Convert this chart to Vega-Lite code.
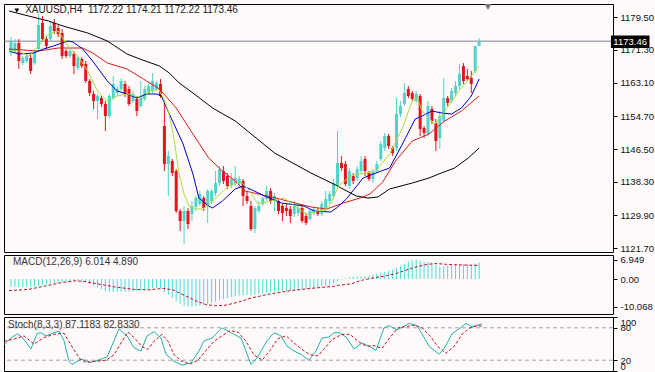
{
"$schema":"https://vega.github.io/schema/vega-lite/v6.json",
"background":"#FFFAFA",
"padding":{"left":1,"top":3,"right":0,"bottom":0},
"spacing":3,
"bounds":"flush",
"config":{
"view":{"fill":"#FFFAFA","stroke":"#000000","strokeWidth":1},
"axis":{"labelFont":"Liberation Sans","labelFontSize":9.5,"labelColor":"#111111","tickColor":"#000000","grid":false,"domain":false,"title":null,"tickSize":4,"labelPadding":3,"labelOverlap":false},
"text":{"font":"Liberation Sans","fontSize":9.5}
},
"datasets":{
"candles":[
{"i":0,"o":1170.5,"h":1174.5,"l":1169.75,"c":1173.5,"m":-2.75},
{"i":1,"o":1171.0,"h":1174.0,"l":1170.5,"c":1173.0,"m":-2.84},
{"i":2,"o":1173.0,"h":1174.0,"l":1166.5,"c":1168.5,"m":-2.93},
{"i":3,"o":1168.0,"h":1169.75,"l":1167.5,"c":1169.25,"m":-2.93},
{"i":4,"o":1168.5,"h":1170.5,"l":1168.0,"c":1169.75,"m":-2.84},
{"i":5,"o":1169.25,"h":1170.5,"l":1165.25,"c":1166.0,"m":-2.75},
{"i":6,"o":1168.0,"h":1171.5,"l":1167.5,"c":1171.0,"m":-2.65},
{"i":7,"o":1171.5,"h":1180.25,"l":1171.0,"c":1177.5,"m":-2.38},
{"i":8,"o":1178.0,"h":1179.75,"l":1173.5,"c":1174.0,"m":-2.1},
{"i":9,"o":1174.0,"h":1174.75,"l":1171.5,"c":1172.25,"m":-1.92},
{"i":10,"o":1174.0,"h":1178.5,"l":1173.5,"c":1177.25,"m":-1.74},
{"i":11,"o":1178.0,"h":1179.0,"l":1175.25,"c":1176.0,"m":-1.56},
{"i":12,"o":1176.75,"h":1177.5,"l":1174.5,"c":1175.25,"m":-1.37},
{"i":13,"o":1175.5,"h":1176.5,"l":1169.0,"c":1169.75,"m":-1.1},
{"i":14,"o":1171.0,"h":1171.5,"l":1169.25,"c":1169.75,"m":-0.82},
{"i":15,"o":1169.75,"h":1171.75,"l":1169.25,"c":1171.0,"m":-0.73},
{"i":16,"o":1170.25,"h":1171.0,"l":1165.25,"c":1167.25,"m":-0.64},
{"i":17,"o":1166.75,"h":1169.75,"l":1166.25,"c":1169.25,"m":-0.73},
{"i":18,"o":1169.0,"h":1169.5,"l":1166.75,"c":1167.25,"m":-0.92},
{"i":19,"o":1167.75,"h":1168.5,"l":1163.0,"c":1163.5,"m":-1.28},
{"i":20,"o":1163.5,"h":1164.0,"l":1159.75,"c":1160.5,"m":-1.83},
{"i":21,"o":1160.25,"h":1161.0,"l":1156.5,"c":1158.5,"m":-2.47},
{"i":22,"o":1158.5,"h":1160.25,"l":1154.0,"c":1159.75,"m":-3.11},
{"i":23,"o":1159.25,"h":1159.75,"l":1157.0,"c":1157.75,"m":-3.66},
{"i":24,"o":1157.75,"h":1158.5,"l":1151.0,"c":1154.75,"m":-4.21},
{"i":25,"o":1154.75,"h":1160.25,"l":1154.25,"c":1159.75,"m":-4.58},
{"i":26,"o":1159.25,"h":1164.75,"l":1158.75,"c":1162.75,"m":-4.67},
{"i":27,"o":1160.5,"h":1162.25,"l":1159.75,"c":1161.5,"m":-4.58},
{"i":28,"o":1161.5,"h":1164.25,"l":1161.0,"c":1163.5,"m":-4.48},
{"i":29,"o":1162.75,"h":1163.5,"l":1159.5,"c":1160.25,"m":-4.58},
{"i":30,"o":1161.5,"h":1162.25,"l":1157.25,"c":1157.75,"m":-4.58},
{"i":31,"o":1158.5,"h":1161.0,"l":1158.0,"c":1160.25,"m":-4.48},
{"i":32,"o":1159.0,"h":1159.75,"l":1154.75,"c":1156.0,"m":-4.39},
{"i":33,"o":1157.25,"h":1163.5,"l":1156.75,"c":1159.75,"m":-4.12},
{"i":34,"o":1159.0,"h":1162.25,"l":1158.5,"c":1161.5,"m":-3.84},
{"i":35,"o":1160.5,"h":1163.0,"l":1160.0,"c":1162.25,"m":-3.57},
{"i":36,"o":1161.0,"h":1165.5,"l":1160.5,"c":1163.5,"m":-3.29},
{"i":37,"o":1161.5,"h":1163.5,"l":1161.0,"c":1163.0,"m":-3.2},
{"i":38,"o":1162.75,"h":1164.0,"l":1159.25,"c":1159.75,"m":-3.39},
{"i":39,"o":1152.25,"h":1158.5,"l":1141.0,"c":1142.75,"m":-4.58},
{"i":40,"o":1142.75,"h":1146.0,"l":1134.75,"c":1144.75,"m":-5.76},
{"i":41,"o":1143.5,"h":1144.0,"l":1139.75,"c":1140.5,"m":-6.86},
{"i":42,"o":1141.0,"h":1141.5,"l":1130.5,"c":1131.0,"m":-8.05},
{"i":43,"o":1131.0,"h":1131.5,"l":1126.0,"c":1128.5,"m":-8.97},
{"i":44,"o":1128.5,"h":1132.25,"l":1122.75,"c":1131.0,"m":-9.6},
{"i":45,"o":1131.0,"h":1131.75,"l":1126.5,"c":1127.75,"m":-10.07},
{"i":46,"o":1130.25,"h":1133.5,"l":1128.5,"c":1132.25,"m":-10.07},
{"i":47,"o":1132.0,"h":1134.75,"l":1131.0,"c":1134.25,"m":-9.97},
{"i":48,"o":1132.75,"h":1136.0,"l":1132.25,"c":1135.25,"m":-9.7},
{"i":49,"o":1134.25,"h":1134.75,"l":1131.0,"c":1131.75,"m":-9.42},
{"i":50,"o":1132.25,"h":1136.5,"l":1128.0,"c":1136.0,"m":-9.06},
{"i":51,"o":1133.5,"h":1136.5,"l":1132.75,"c":1136.0,"m":-8.69},
{"i":52,"o":1135.5,"h":1141.0,"l":1134.75,"c":1138.0,"m":-8.24},
{"i":53,"o":1138.0,"h":1142.25,"l":1137.25,"c":1141.5,"m":-7.69},
{"i":54,"o":1141.0,"h":1142.25,"l":1137.75,"c":1138.5,"m":-7.23},
{"i":55,"o":1139.75,"h":1140.5,"l":1136.5,"c":1137.25,"m":-6.86},
{"i":56,"o":1137.25,"h":1140.5,"l":1136.75,"c":1139.0,"m":-6.5},
{"i":57,"o":1138.0,"h":1142.25,"l":1137.25,"c":1139.25,"m":-6.22},
{"i":58,"o":1137.75,"h":1139.75,"l":1137.0,"c":1139.0,"m":-5.95},
{"i":59,"o":1138.5,"h":1139.0,"l":1132.25,"c":1134.75,"m":-5.86},
{"i":60,"o":1134.75,"h":1136.0,"l":1132.75,"c":1133.5,"m":-5.76},
{"i":61,"o":1132.25,"h":1133.5,"l":1126.0,"c":1126.5,"m":-5.95},
{"i":62,"o":1126.5,"h":1132.25,"l":1125.5,"c":1131.75,"m":-5.76},
{"i":63,"o":1131.0,"h":1133.5,"l":1130.5,"c":1132.25,"m":-5.49},
{"i":64,"o":1132.75,"h":1134.75,"l":1132.25,"c":1134.25,"m":-5.22},
{"i":65,"o":1134.0,"h":1137.25,"l":1133.5,"c":1136.0,"m":-4.85},
{"i":66,"o":1136.0,"h":1136.75,"l":1132.75,"c":1133.5,"m":-4.58},
{"i":67,"o":1133.5,"h":1135.5,"l":1131.0,"c":1134.75,"m":-4.48},
{"i":68,"o":1133.5,"h":1134.0,"l":1130.25,"c":1131.0,"m":-4.39},
{"i":69,"o":1132.25,"h":1132.75,"l":1128.5,"c":1130.5,"m":-4.39},
{"i":70,"o":1131.75,"h":1132.75,"l":1129.75,"c":1131.0,"m":-4.3},
{"i":71,"o":1131.5,"h":1132.25,"l":1128.0,"c":1129.75,"m":-4.21},
{"i":72,"o":1130.25,"h":1133.5,"l":1129.5,"c":1132.25,"m":-4.12},
{"i":73,"o":1130.5,"h":1132.75,"l":1129.75,"c":1131.75,"m":-4.03},
{"i":74,"o":1131.75,"h":1132.25,"l":1128.0,"c":1128.5,"m":-3.93},
{"i":75,"o":1129.75,"h":1130.5,"l":1127.5,"c":1128.0,"m":-3.84},
{"i":76,"o":1129.0,"h":1131.5,"l":1128.5,"c":1131.0,"m":-3.57},
{"i":77,"o":1130.5,"h":1132.25,"l":1130.0,"c":1131.5,"m":-3.29},
{"i":78,"o":1131.0,"h":1131.75,"l":1129.75,"c":1130.25,"m":-3.02},
{"i":79,"o":1130.25,"h":1133.5,"l":1129.75,"c":1132.75,"m":-2.75},
{"i":80,"o":1131.75,"h":1136.0,"l":1131.0,"c":1134.0,"m":-2.38},
{"i":81,"o":1133.5,"h":1136.0,"l":1132.75,"c":1135.25,"m":-2.01},
{"i":82,"o":1134.75,"h":1139.0,"l":1134.0,"c":1138.0,"m":-1.65},
{"i":83,"o":1137.25,"h":1151.0,"l":1136.75,"c":1143.0,"m":-0.82},
{"i":84,"o":1143.0,"h":1144.75,"l":1141.0,"c":1141.75,"m":-0.3},
{"i":85,"o":1142.75,"h":1143.5,"l":1137.25,"c":1137.75,"m":0.3},
{"i":86,"o":1137.25,"h":1141.75,"l":1136.5,"c":1141.0,"m":0.6},
{"i":87,"o":1139.75,"h":1140.5,"l":1137.75,"c":1138.5,"m":0.8},
{"i":88,"o":1139.25,"h":1142.25,"l":1138.5,"c":1141.5,"m":0.9},
{"i":89,"o":1141.0,"h":1144.75,"l":1140.5,"c":1143.5,"m":1.0},
{"i":90,"o":1144.0,"h":1144.75,"l":1139.75,"c":1141.0,"m":1.1},
{"i":91,"o":1140.5,"h":1141.0,"l":1138.5,"c":1139.0,"m":1.3},
{"i":92,"o":1139.0,"h":1141.5,"l":1138.0,"c":1141.0,"m":1.6},
{"i":93,"o":1141.0,"h":1143.5,"l":1140.5,"c":1142.75,"m":1.9},
{"i":94,"o":1144.0,"h":1148.5,"l":1143.5,"c":1147.75,"m":2.1},
{"i":95,"o":1146.75,"h":1150.5,"l":1146.0,"c":1149.75,"m":2.6},
{"i":96,"o":1149.75,"h":1150.25,"l":1146.5,"c":1147.25,"m":3.0},
{"i":97,"o":1146.75,"h":1147.25,"l":1144.75,"c":1145.5,"m":3.3},
{"i":98,"o":1146.75,"h":1159.25,"l":1146.0,"c":1155.25,"m":4.0},
{"i":99,"o":1155.25,"h":1158.5,"l":1154.5,"c":1157.25,"m":4.6},
{"i":100,"o":1157.75,"h":1163.0,"l":1157.25,"c":1160.5,"m":5.5},
{"i":101,"o":1161.5,"h":1162.25,"l":1159.25,"c":1159.75,"m":6.3},
{"i":102,"o":1160.5,"h":1161.0,"l":1158.5,"c":1159.0,"m":6.8},
{"i":103,"o":1158.5,"h":1161.0,"l":1158.0,"c":1160.25,"m":6.95},
{"i":104,"o":1159.75,"h":1160.25,"l":1149.75,"c":1151.5,"m":6.5},
{"i":105,"o":1151.75,"h":1152.25,"l":1149.25,"c":1150.5,"m":6.2},
{"i":106,"o":1150.25,"h":1158.5,"l":1149.75,"c":1157.25,"m":6.2},
{"i":107,"o":1156.5,"h":1157.25,"l":1152.75,"c":1153.5,"m":6.0},
{"i":108,"o":1153.0,"h":1154.0,"l":1146.0,"c":1148.5,"m":5.2},
{"i":109,"o":1149.25,"h":1156.0,"l":1146.5,"c":1154.75,"m":4.4},
{"i":110,"o":1153.5,"h":1164.25,"l":1153.0,"c":1159.25,"m":4.5},
{"i":111,"o":1159.25,"h":1159.75,"l":1157.25,"c":1158.0,"m":4.8},
{"i":112,"o":1158.5,"h":1161.75,"l":1158.0,"c":1161.0,"m":5.0},
{"i":113,"o":1160.5,"h":1163.5,"l":1159.75,"c":1162.25,"m":5.1},
{"i":114,"o":1162.25,"h":1167.75,"l":1161.5,"c":1165.25,"m":5.3},
{"i":115,"o":1167.25,"h":1168.0,"l":1162.75,"c":1163.5,"m":5.5},
{"i":116,"o":1164.75,"h":1166.5,"l":1163.5,"c":1164.0,"m":5.3},
{"i":117,"o":1164.25,"h":1166.0,"l":1160.5,"c":1162.75,"m":5.1},
{"i":118,"o":1166.0,"h":1172.25,"l":1165.5,"c":1172.2,"m":5.6},
{"i":119,"o":1172.22,"h":1174.21,"l":1172.22,"c":1173.46,"m":6.01}
],
"mk":[{"i":-0.5,"p":1181.0},{"i":4.5,"p":1179.75},{"i":9.5,"p":1178.5},{"i":13.25,"p":1177.25},{"i":19.5,"p":1175.5},{"i":24.5,"p":1173.5},{"i":29.5,"p":1170.25},{"i":32.75,"p":1169.0},{"i":37.75,"p":1167.25},{"i":40.25,"p":1165.5},{"i":42.75,"p":1163.0},{"i":46.25,"p":1160.5},{"i":51.25,"p":1156.75},{"i":57,"p":1153.5},{"i":60.75,"p":1150.5},{"i":67,"p":1145.5},{"i":76.25,"p":1140.5},{"i":82,"p":1137.75},{"i":87.75,"p":1134.75},{"i":90.75,"p":1134.25},{"i":93.25,"p":1134.5},{"i":96.25,"p":1136.5},{"i":102,"p":1138.0},{"i":106.25,"p":1139.25},{"i":108.75,"p":1140.25},{"i":112.75,"p":1141.75},{"i":116.25,"p":1144.25},{"i":119,"p":1146.75}],
"mr":[{"i":-0.5,"p":1171.5},{"i":7,"p":1171.0},{"i":12,"p":1171.75},{"i":18.25,"p":1171.75},{"i":20.75,"p":1170.5},{"i":24.5,"p":1168.0},{"i":29.5,"p":1166.5},{"i":34.5,"p":1163.5},{"i":37.75,"p":1161.5},{"i":42,"p":1156.75},{"i":46.25,"p":1150.25},{"i":50.25,"p":1144.25},{"i":53.75,"p":1141.0},{"i":57,"p":1138.5},{"i":59.5,"p":1136.0},{"i":66.25,"p":1134.5},{"i":76.25,"p":1132.0},{"i":80.25,"p":1131.5},{"i":84.5,"p":1133.0},{"i":88.75,"p":1134.25},{"i":91.25,"p":1135.25},{"i":94.5,"p":1138.25},{"i":97.75,"p":1143.5},{"i":102,"p":1148.5},{"i":106.25,"p":1150.25},{"i":110.25,"p":1153.5},{"i":114.5,"p":1156.0},{"i":119,"p":1159.75}],
"mb":[{"i":-0.5,"p":1171.0},{"i":2,"p":1170.25},{"i":5.75,"p":1170.5},{"i":8.25,"p":1171.5},{"i":10.75,"p":1172.25},{"i":14.5,"p":1173.5},{"i":15.75,"p":1173.25},{"i":18.25,"p":1171.5},{"i":20.75,"p":1168.5},{"i":24.5,"p":1163.5},{"i":27,"p":1161.0},{"i":29.5,"p":1160.25},{"i":32,"p":1159.25},{"i":34.5,"p":1160.25},{"i":37,"p":1160.25},{"i":38.25,"p":1159.75},{"i":40.25,"p":1155.25},{"i":43.75,"p":1147.75},{"i":46.25,"p":1140.25},{"i":47.75,"p":1134.25},{"i":50.25,"p":1132.25},{"i":51.25,"p":1131.75},{"i":53.75,"p":1133.5},{"i":57,"p":1136.5},{"i":59,"p":1137.25},{"i":60.75,"p":1136.5},{"i":64.5,"p":1134.75},{"i":68.75,"p":1133.0},{"i":74.5,"p":1132.25},{"i":77,"p":1131.0},{"i":81.25,"p":1130.75},{"i":82.75,"p":1131.75},{"i":85.25,"p":1134.0},{"i":89.5,"p":1139.25},{"i":92.75,"p":1140.5},{"i":96.25,"p":1141.75},{"i":99.5,"p":1147.75},{"i":102.75,"p":1154.0},{"i":104.5,"p":1154.75},{"i":107,"p":1156.0},{"i":109.5,"p":1155.5},{"i":112,"p":1155.25},{"i":114.5,"p":1156.75},{"i":117,"p":1159.75},{"i":119,"p":1164.0}],
"my":[{"i":-0.5,"p":1171.0},{"i":2,"p":1171.0},{"i":4.5,"p":1169.75},{"i":7,"p":1172.25},{"i":9.5,"p":1175.25},{"i":12,"p":1176.0},{"i":14.5,"p":1172.25},{"i":17,"p":1169.75},{"i":19.5,"p":1166.0},{"i":22,"p":1161.0},{"i":24.5,"p":1158.5},{"i":27,"p":1159.75},{"i":29.5,"p":1160.25},{"i":33.75,"p":1159.25},{"i":35.25,"p":1161.0},{"i":37.5,"p":1161.5},{"i":38.75,"p":1159.25},{"i":40,"p":1156.0},{"i":41.25,"p":1150.25},{"i":42.75,"p":1140.25},{"i":44,"p":1135.25},{"i":45.25,"p":1132.25},{"i":47,"p":1131.5},{"i":48.75,"p":1131.5},{"i":51.25,"p":1133.5},{"i":54.5,"p":1136.5},{"i":56.25,"p":1137.75},{"i":58.75,"p":1138.0},{"i":60.75,"p":1136.0},{"i":62.75,"p":1132.75},{"i":66.25,"p":1133.5},{"i":69.5,"p":1134.25},{"i":72.75,"p":1131.75},{"i":75.25,"p":1130.25},{"i":77.75,"p":1131.0},{"i":79.5,"p":1131.0},{"i":81.25,"p":1132.75},{"i":83.25,"p":1137.25},{"i":86.25,"p":1139.75},{"i":90.25,"p":1140.5},{"i":92.75,"p":1141.0},{"i":96.25,"p":1145.25},{"i":99.5,"p":1151.75},{"i":102,"p":1158.5},{"i":103.25,"p":1159.25},{"i":104.5,"p":1156.0},{"i":107.75,"p":1152.75},{"i":109.5,"p":1154.75},{"i":112,"p":1158.5},{"i":114.5,"p":1161.75},{"i":117,"p":1164.75},{"i":119,"p":1167.25}],
"sig":[{"i":-0.5,"v":-4.2},{"i":4.5,"v":-3.75},{"i":9.5,"v":-2.3},{"i":13.25,"v":-1.2},{"i":16.25,"v":-0.65},{"i":18.75,"v":-0.9},{"i":22,"v":-1.75},{"i":26.25,"v":-2.85},{"i":31.25,"v":-3.75},{"i":34.5,"v":-3.95},{"i":38.75,"v":-3.4},{"i":41.25,"v":-3.95},{"i":43.75,"v":-5.7},{"i":47,"v":-7.9},{"i":49.5,"v":-9.25},{"i":52,"v":-9.7},{"i":54.5,"v":-9.5},{"i":57.75,"v":-8.4},{"i":61.25,"v":-6.8},{"i":66.25,"v":-5.3},{"i":71.25,"v":-4.2},{"i":76.25,"v":-3.4},{"i":82,"v":-2.65},{"i":83.25,"v":-2.3},{"i":86.5,"v":-1.75},{"i":89,"v":-0.5},{"i":92.5,"v":0.5},{"i":95.75,"v":1.3},{"i":97.5,"v":1.8},{"i":100,"v":3.0},{"i":102.5,"v":4.2},{"i":105.75,"v":5.3},{"i":108.25,"v":5.6},{"i":110.75,"v":5.3},{"i":114,"v":5.1},{"i":116.5,"v":5.0},{"i":119,"v":4.89}],
"sm":[{"i":-0.5,"v":49},{"i":1.25,"v":61},{"i":2.75,"v":69},{"i":4,"v":63},{"i":6.25,"v":41},{"i":7.75,"v":69},{"i":8.75,"v":71},{"i":10,"v":65},{"i":12,"v":71},{"i":13.25,"v":74},{"i":14.5,"v":56},{"i":15.75,"v":18},{"i":16.5,"v":12},{"i":18.75,"v":22},{"i":21.25,"v":16},{"i":23.75,"v":22},{"i":25.25,"v":26},{"i":27,"v":56},{"i":28.25,"v":78},{"i":30.25,"v":65},{"i":32,"v":43},{"i":33.75,"v":37},{"i":35.25,"v":65},{"i":37,"v":73},{"i":38.75,"v":61},{"i":40,"v":31},{"i":42,"v":18},{"i":44,"v":11},{"i":46.25,"v":15},{"i":48.25,"v":37},{"i":49.5,"v":56},{"i":51.5,"v":61},{"i":54,"v":80},{"i":56.25,"v":71},{"i":58.75,"v":61},{"i":61.25,"v":12},{"i":62.75,"v":24},{"i":65.25,"v":56},{"i":67,"v":71},{"i":68.75,"v":65},{"i":70.25,"v":46},{"i":72,"v":37},{"i":73.75,"v":31},{"i":75.75,"v":20},{"i":77.5,"v":37},{"i":79,"v":61},{"i":80.75,"v":63},{"i":82,"v":71},{"i":83.25,"v":71},{"i":85,"v":63},{"i":87,"v":41},{"i":89,"v":52},{"i":91.5,"v":43},{"i":92.5,"v":38},{"i":94.5,"v":80},{"i":95.75,"v":84},{"i":97.75,"v":76},{"i":100.75,"v":88},{"i":102.75,"v":84},{"i":104,"v":69},{"i":105.75,"v":46},{"i":108.25,"v":31},{"i":109.5,"v":41},{"i":111.5,"v":69},{"i":113.25,"v":78},{"i":115,"v":88},{"i":116.5,"v":82},{"i":119,"v":87.1}],
"ss":[{"i":-0.5,"v":55},{"i":2.5,"v":60},{"i":4.5,"v":65},{"i":7,"v":50},{"i":9.5,"v":62},{"i":12,"v":68},{"i":14.5,"v":70},{"i":16.5,"v":45},{"i":18.5,"v":22},{"i":20,"v":16},{"i":22.5,"v":18},{"i":25,"v":20},{"i":27,"v":30},{"i":29,"v":55},{"i":30.5,"v":72},{"i":32,"v":62},{"i":34,"v":45},{"i":35.5,"v":40},{"i":37,"v":55},{"i":39,"v":68},{"i":40.5,"v":55},{"i":42,"v":30},{"i":44,"v":18},{"i":46,"v":13},{"i":48,"v":20},{"i":50,"v":38},{"i":52,"v":55},{"i":54,"v":65},{"i":56,"v":75},{"i":58,"v":72},{"i":60,"v":55},{"i":62,"v":30},{"i":64,"v":20},{"i":66,"v":38},{"i":68,"v":60},{"i":70,"v":65},{"i":72,"v":52},{"i":74,"v":40},{"i":76,"v":30},{"i":78,"v":28},{"i":80,"v":45},{"i":81.5,"v":58},{"i":84,"v":68},{"i":86,"v":68},{"i":88,"v":55},{"i":90,"v":46},{"i":92,"v":47},{"i":94,"v":42},{"i":96,"v":62},{"i":98,"v":80},{"i":100,"v":82},{"i":102,"v":85},{"i":104,"v":80},{"i":106,"v":65},{"i":108,"v":45},{"i":110,"v":33},{"i":112,"v":45},{"i":114,"v":68},{"i":116,"v":80},{"i":118,"v":84},{"i":119,"v":82.8}]
},
"vconcat":[
{
"width":609,"height":248,
"data":{"name":"candles"},
"layer":[
{"data":{"values":[{}]},"mark":{"type":"rule","color":"#7C8096","strokeWidth":1},
 "encoding":{"y":{"datum":1173.46,"type":"quantitative","scale":{"domain":[1120.75,1182.75],"nice":false,"zero":false},"axis":{"orient":"right","values":[1121.7,1129.9,1138.3,1146.5,1154.7,1163.1,1171.3,1179.5],"tickCount":30,"format":".2f","labelOverlap":false}}}},
{"mark":{"type":"rule","strokeWidth":1},
 "encoding":{"x":{"field":"i","type":"quantitative","scale":{"domain":[-0.5,151.75],"nice":false,"zero":false},"axis":null},
  "y":{"field":"l","type":"quantitative"},"y2":{"field":"h"},
  "color":{"condition":{"test":"datum.c >= datum.o","value":"#4FD3CB"},"value":"#E3141C"}}},
{"mark":{"type":"bar","size":3},
 "encoding":{"x":{"field":"i","type":"quantitative"},
  "y":{"field":"o","type":"quantitative"},"y2":{"field":"c"},
  "color":{"condition":{"test":"datum.c >= datum.o","value":"#4FD3CB"},"value":"#E3141C"}}},
{"data":{"name":"mk"},"mark":{"type":"line","color":"#000000","strokeWidth":1},"encoding":{"x":{"field":"i","type":"quantitative"},"y":{"field":"p","type":"quantitative"}}},
{"data":{"name":"mr"},"mark":{"type":"line","color":"#D21E1E","strokeWidth":1},"encoding":{"x":{"field":"i","type":"quantitative"},"y":{"field":"p","type":"quantitative"}}},
{"data":{"name":"mb"},"mark":{"type":"line","color":"#0000C8","strokeWidth":1},"encoding":{"x":{"field":"i","type":"quantitative"},"y":{"field":"p","type":"quantitative"}}},
{"data":{"name":"my"},"mark":{"type":"line","color":"#A6E03A","strokeWidth":1},"encoding":{"x":{"field":"i","type":"quantitative"},"y":{"field":"p","type":"quantitative"}}},
{"data":{"values":[{}]},"mark":{"type":"point","shape":"triangle-down","filled":true,"size":22,"color":"#000000","opacity":1},
 "encoding":{"x":{"datum":1.5},"y":{"datum":1181.1}}},
{"data":{"values":[{}]},"mark":{"type":"text","text":"XAUUSD,H4\u00a0 1172.22 1174.21 1172.22 1173.46","align":"left","baseline":"middle","color":"#222222","fontSize":10},
 "encoding":{"x":{"datum":3.6},"y":{"datum":1181.25}}},
{"data":{"values":[{}]},"mark":{"type":"point","shape":"triangle-down","filled":true,"size":45,"color":"#7A7A7A","opacity":1},
 "encoding":{"x":{"datum":121.25},"y":{"datum":1182.0}}},
{"data":{"values":[{}]},"mark":{"type":"rect","color":"#000000"},
 "encoding":{"x":{"datum":152.5},"x2":{"datum":162.3},"y":{"datum":1171.75},"y2":{"datum":1174.9}}},
{"data":{"values":[{}]},"mark":{"type":"text","text":"1173.46","align":"left","baseline":"middle","color":"#FFFFFF","fontSize":9.5},
 "encoding":{"x":{"datum":153.1},"y":{"datum":1173.35}}}
]
},
{
"width":609,"height":59,
"data":{"name":"candles"},
"layer":[
{"mark":{"type":"bar","size":1,"color":"#45DCDC"},
 "encoding":{"x":{"field":"i","type":"quantitative","scale":{"domain":[-0.5,151.75],"nice":false,"zero":false},"axis":null},
  "y":{"field":"m","type":"quantitative","scale":{"domain":[-12.67,8.69],"nice":false,"zero":false},"axis":{"orient":"right","values":[-10.068,0,6.949],"tickCount":30,"labelOverlap":false,"labelExpr":"datum.value == 0 ? '0.00' : '' + datum.value"}},
  "y2":{"datum":0}}},
{"data":{"name":"sig"},"mark":{"type":"line","color":"#C0102A","strokeWidth":1,"strokeDash":[3,2]},"encoding":{"x":{"field":"i","type":"quantitative"},"y":{"field":"v","type":"quantitative"}}},
{"data":{"values":[{}]},"mark":{"type":"text","text":"MACD(12,26,9) 6.014 4.890","align":"left","baseline":"middle","color":"#333333","dx":2,"fontSize":10},
 "encoding":{"x":{"datum":0},"y":{"datum":6.15}}}
]
},
{
"width":609,"height":54,
"layer":[
{"data":{"values":[{"v":80},{"v":20}]},"mark":{"type":"rule","color":"#A0A0A0","strokeWidth":1,"strokeDash":[4,3]},
 "encoding":{"y":{"field":"v","type":"quantitative","scale":{"domain":[0,100],"nice":false,"zero":false},"axis":{"orient":"right","values":[0,20,80,100],"tickCount":30,"labelFlush":true,"labelOverlap":false}}}},
{"data":{"name":"sm"},"mark":{"type":"line","color":"#20B2AA","strokeWidth":1},
 "encoding":{"x":{"field":"i","type":"quantitative","scale":{"domain":[-0.5,151.75],"nice":false,"zero":false},"axis":{"values":[16.25,32.5,48.75,65,80.75,97,113.25],"tickCount":30,"labels":false,"tickSize":4}},
  "y":{"field":"v","type":"quantitative"}}},
{"data":{"name":"ss"},"mark":{"type":"line","color":"#C0102A","strokeWidth":1,"strokeDash":[3,2]},"encoding":{"x":{"field":"i","type":"quantitative"},"y":{"field":"v","type":"quantitative"}}},
{"data":{"values":[{}]},"mark":{"type":"text","text":"Stoch(8,3,3) 87.1183 82.8330","align":"left","baseline":"middle","color":"#333333","dx":2,"fontSize":10},
 "encoding":{"x":{"datum":0},"y":{"datum":86}}}
]
}
]
}
